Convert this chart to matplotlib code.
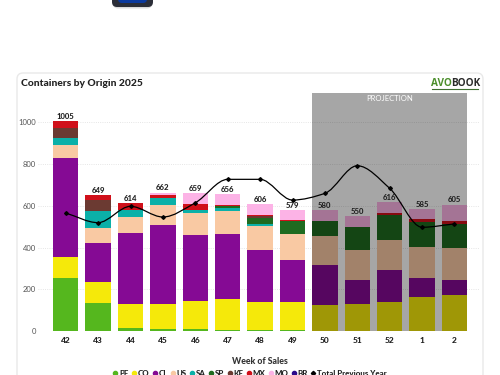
import matplotlib
matplotlib.use("Agg")
import numpy as np
import matplotlib.pyplot as plt
from matplotlib.lines import Line2D
from matplotlib.patches import FancyBboxPatch, PathPatch
from matplotlib.path import Path

plt.rcParams["font.family"] = ["Lato", "DejaVu Sans"]

# data
weeks = ["42", "43", "44", "45", "46", "47", "48", "49", "50", "51", "52", "1", "2"]
pe = [253, 134, 14, 9, 11, 5, 4, 4, 3, 0, 0, 3, 3]
co = [103, 100, 118, 123, 135, 149, 138, 138, 123, 132, 141, 162, 172]
cl = [473, 186, 336, 376, 314, 309, 246, 199, 191, 113, 153, 90, 70]
us = [61, 75, 80, 95, 104, 112, 113, 124, 140, 143, 141, 149, 152]
sa = [33, 80, 32, 32, 16, 14, 10, 0, 0, 0, 0, 0, 0]
sp = [0, 0, 0, 0, 0, 10, 32, 62, 71, 109, 119, 118, 117]
ke = [48, 51, 0, 0, 0, 0, 8, 0, 0, 0, 0, 0, 0]
mx = [34, 23, 34, 16, 28, 4, 5, 5, 0, 3, 11, 13, 13]
mo = [0, 0, 0, 11, 51, 53, 50, 47, 52, 50, 51, 50, 78]
br = [0, 0, 0, 0, 0, 0, 0, 0, 0, 0, 0, 0, 0]
previous_year = [565, 519, 597, 546, 614, 726, 726, 627, 659, 791, 683, 497, 513]

series = [pe, co, cl, us, sa, sp, ke, mx, mo, br]
names = ["PE", "CO", "CL", "US", "SA", "SP", "KE", "MX", "MO", "BR"]
colors = ["#55B71E", "#F5E90A", "#850A94", "#F9C9A3", "#0BB0A8",
          "#1F6B20", "#6B3A32", "#D0101A", "#FCB3E6", "#2A0A8A"]

fig = plt.figure(figsize=(5, 3.75), dpi=100, facecolor="white")

# page background: card, icon, logo (pixel coordinates)
bg = fig.add_axes([0, 0, 1, 1])
bg.set_xlim(0, 500)
bg.set_ylim(375, 0)
bg.axis("off")
bg.add_patch(FancyBboxPatch((17, 73), 466, 340, boxstyle="round,pad=0,rounding_size=6",
                            fc="white", ec="#e9e9e9", lw=1))
bg.add_patch(FancyBboxPatch((113, -20), 39, 28.5, boxstyle="round,pad=0,rounding_size=5",
                            fc="#c4c4c4", ec="none", alpha=0.6))
bg.add_patch(FancyBboxPatch((112, -20), 41, 27, boxstyle="round,pad=0,rounding_size=5",
                            fc="#2b2e38", ec="none"))
bg.add_patch(FancyBboxPatch((118, -20), 29, 23, boxstyle="round,pad=0,rounding_size=4",
                            fc="#0B3A9E", ec="none"))
bg.text(21, 83.5, "Containers by Origin 2025", fontsize=7.4, fontweight=900,
        color="#222222", va="center", ha="left")
bg.text(431, 83, "AVO", fontsize=7.2, fontweight="bold", family="Open Sans", color="#4C8F2C",
        va="center", ha="left")
bg.text(451, 83, "BOOK", fontsize=7.2, fontweight="bold", family="Open Sans", color="#2A2A2A",
        va="center", ha="left")
bg.plot([432, 478], [89, 89], color="#3f6f30", lw=0.8, zorder=3)

# chart area
ax = fig.add_axes([38 / 500, 1 - 331.3 / 375, (480 - 38) / 500, (331.3 - 93.3) / 375])
ax.patch.set_alpha(0)
x = np.arange(len(weeks))
bar_w = 0.79

bottom = np.zeros(len(weeks))
for vals, name, col in zip(series, names, colors):
    ax.bar(x, vals, bar_w, bottom=bottom, color=col, zorder=2, label=name)
    bottom += np.array(vals)

# projection band darkens what is under it
ax.axvspan(8 - bar_w / 2, 12 + bar_w / 2, color="black", alpha=0.35, lw=0, zorder=3)
ax.text(10, 1113, "PROJECTION", color="white", fontsize=5.5, ha="center", va="center", zorder=6)

# smooth previous year line, monotone cubic
py = np.array(previous_year, dtype=float)
sl = np.diff(py)
tan = np.zeros(len(py))
tan[0], tan[-1] = sl[0], sl[-1]
for i in range(1, len(py) - 1):
    if sl[i - 1] * sl[i] > 0:
        tan[i] = 2 * sl[i - 1] * sl[i] / (sl[i - 1] + sl[i])
verts = [(x[0], py[0])]
codes = [Path.MOVETO]
for i in range(len(py) - 1):
    verts += [(x[i] + 1 / 3, py[i] + tan[i] / 3),
              (x[i + 1] - 1 / 3, py[i + 1] - tan[i + 1] / 3),
              (x[i + 1], py[i + 1])]
    codes += [Path.CURVE4] * 3
ax.add_patch(PathPatch(Path(verts, codes), fc="none", ec="black", lw=0.9, zorder=4))
ax.plot(x, py, ls="none", marker="D", ms=1.9, color="black", zorder=5)

for xi, total in zip(x, bottom):
    ax.text(xi, total + 6, f"{int(total)}", ha="center", va="bottom", fontsize=5.6,
            fontweight=900, color="#222222", zorder=6)

ax.set_xlim((38 - 65.7) / 32.4, (480 - 65.7) / 32.4)
ax.set_ylim(0, 1137)
ax.set_xticks(x)
ax.set_xticklabels(weeks, fontsize=6, fontweight=900, color="#222222")
ax.set_yticks([0, 200, 400, 600, 800, 1000])
ax.tick_params(axis="y", length=0, labelsize=5.5, labelcolor="#555555", pad=1.5)
ax.tick_params(axis="x", length=0, pad=4)
ax.grid(axis="y", ls=":", lw=0.6, color="#dddddd", zorder=1)
ax.set_axisbelow(True)
for s in ax.spines.values():
    s.set_visible(False)

bg.text(260, 361, "Week of Sales", fontsize=6.3, fontweight=900, color="#333333",
        ha="center", va="center")

# legend sits on the lower edge of the picture, cut as in the source
handles = [Line2D([], [], ls="none", marker="o", ms=3, color=c) for c in colors]
handles.append(Line2D([], [], ls="none", marker="D", ms=2.2, color="black"))
fig.legend(handles, names + ["Total Previous Year"], loc="center", bbox_to_anchor=(0.5, 1 - 373.5 / 375),
           ncols=11, frameon=False, handlelength=0.5, handletextpad=0.25,
           columnspacing=0.4, borderpad=0, prop={"weight": 900, "size": 5.7},
           labelcolor="#222222")

fig.savefig("out.png", dpi=100)
